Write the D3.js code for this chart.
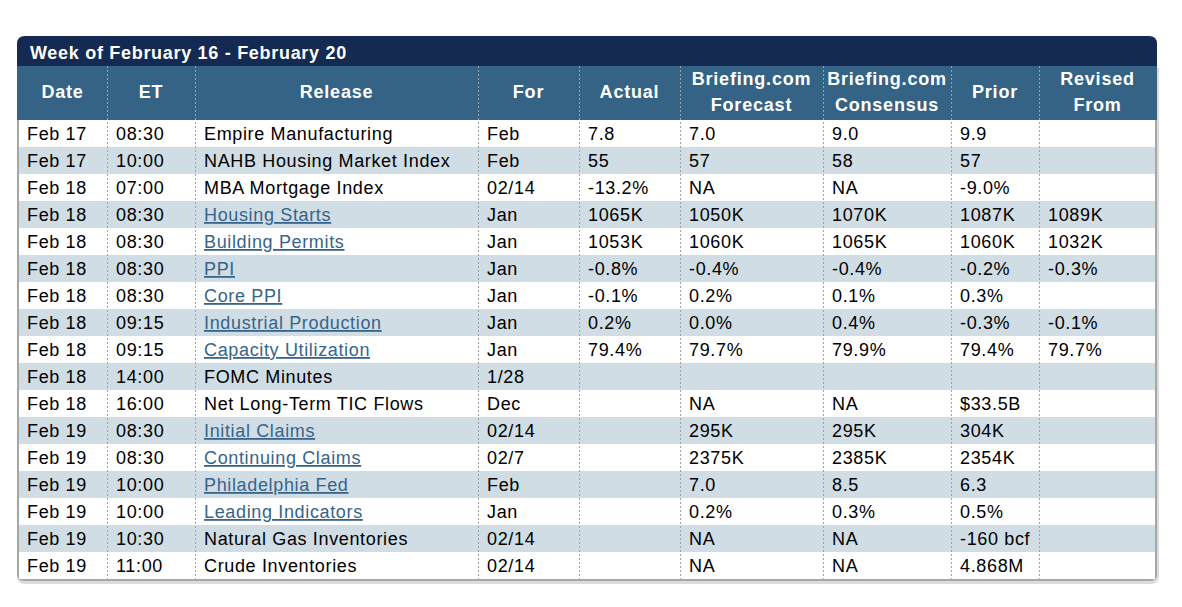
<!DOCTYPE html>
<html>
<head>
<meta charset="utf-8">
<script src="https://cdn.jsdelivr.net/npm/d3@7"></script>
<style>
  body { margin: 0; background: #fff; }
  svg text { font-family: Arial, "Liberation Sans", sans-serif; }
</style>
</head>
<body>
<div id="chart-container"></div>
<script>
// Table contents, one array per column
const title = 'Week of February 16 - February 20';
const headers = [['Date'], ['ET'], ['Release'], ['For'], ['Actual'],
  ['Briefing.com', 'Forecast'], ['Briefing.com', 'Consensus'], ['Prior'], ['Revised', 'From']];

const dates = ['Feb 17', 'Feb 17', 'Feb 18', 'Feb 18', 'Feb 18', 'Feb 18', 'Feb 18', 'Feb 18', 'Feb 18',
  'Feb 18', 'Feb 18', 'Feb 19', 'Feb 19', 'Feb 19', 'Feb 19', 'Feb 19', 'Feb 19'];
const times = ['08:30', '10:00', '07:00', '08:30', '08:30', '08:30', '08:30', '09:15', '09:15',
  '14:00', '16:00', '08:30', '08:30', '10:00', '10:00', '10:30', '11:00'];
const releases = ['Empire Manufacturing', 'NAHB Housing Market Index', 'MBA Mortgage Index', 'Housing Starts',
  'Building Permits', 'PPI', 'Core PPI', 'Industrial Production', 'Capacity Utilization', 'FOMC Minutes',
  'Net Long-Term TIC Flows', 'Initial Claims', 'Continuing Claims', 'Philadelphia Fed', 'Leading Indicators',
  'Natural Gas Inventories', 'Crude Inventories'];
const linked = [false, false, false, true, true, true, true, true, true, false,
  false, true, true, true, true, false, false];
const periods = ['Feb', 'Feb', '02/14', 'Jan', 'Jan', 'Jan', 'Jan', 'Jan', 'Jan', '1/28',
  'Dec', '02/14', '02/7', 'Feb', 'Jan', '02/14', '02/14'];
const actual = ['7.8', '55', '-13.2%', '1065K', '1053K', '-0.8%', '-0.1%', '0.2%', '79.4%', '',
  '', '', '', '', '', '', ''];
const forecast = ['7.0', '57', 'NA', '1050K', '1060K', '-0.4%', '0.2%', '0.0%', '79.7%', '',
  'NA', '295K', '2375K', '7.0', '0.2%', 'NA', 'NA'];
const consensus = ['9.0', '58', 'NA', '1070K', '1065K', '-0.4%', '0.1%', '0.4%', '79.9%', '',
  'NA', '295K', '2385K', '8.5', '0.3%', 'NA', 'NA'];
const prior = ['9.9', '57', '-9.0%', '1087K', '1060K', '-0.2%', '0.3%', '-0.3%', '79.4%', '',
  '$33.5B', '304K', '2354K', '6.3', '0.5%', '-160 bcf', '4.868M'];
const revised = ['', '', '', '1089K', '1032K', '-0.3%', '', '-0.1%', '79.7%', '',
  '', '', '', '', '', '', ''];

const columns = [dates, times, releases, periods, actual, forecast, consensus, prior, revised];

// Layout
const width = 1182, height = 607;
const left = 18, right = 1156;
const titleTop = 36, headTop = 66, bodyTop = 120, rowH = 27;
const colEdges = [left, 107, 195, 478, 579, 680, 823, 951, 1039, right];
const bodyBottom = bodyTop + rowH * dates.length;

const svg = d3.select('#chart-container').append('svg')
  .attr('width', width).attr('height', height);

const yScale = d3.scaleBand()
  .domain(d3.range(dates.length))
  .range([bodyTop, bodyBottom]);

const colScale = d3.scaleOrdinal()
  .domain(d3.range(columns.length))
  .range(colEdges.slice(0, -1));

// Outer frame shadow and border
const framePath = `M${left},${headTop} V${bodyBottom - 5} Q${left},${bodyBottom + 1} ${left + 6},${bodyBottom + 1} H${right - 6} Q${right},${bodyBottom + 1} ${right},${bodyBottom - 5} V${headTop}`;
svg.append('path')
  .attr('d', framePath)
  .attr('fill', 'none').attr('stroke', '#dcdcdc').attr('stroke-width', 4)
  .attr('transform', 'translate(1,2)');
svg.append('path')
  .attr('d', framePath)
  .attr('fill', '#fff').attr('stroke', '#a6a6a6').attr('stroke-width', 2);

// Title bar with rounded top corners
svg.append('path')
  .attr('d', `M${left - 1},${headTop} V${titleTop + 8} Q${left - 1},${titleTop} ${left + 7},${titleTop} H${right - 7} Q${right + 1},${titleTop} ${right + 1},${titleTop + 8} V${headTop} Z`)
  .attr('fill', '#152a52');
svg.append('text')
  .attr('x', left + 12).attr('y', titleTop + 23)
  .attr('fill', '#fff').attr('font-size', 18).attr('font-weight', 'bold')
  .attr('letter-spacing', 0.7)
  .text(title);

// Header row
svg.append('rect')
  .attr('x', left - 1).attr('y', headTop).attr('width', right - left + 2).attr('height', bodyTop - headTop)
  .attr('fill', '#356386');

const head = svg.append('g').selectAll('text')
  .data(headers.map((lines, i) => ({ lines, i })))
  .join('text')
  .attr('fill', '#fff').attr('font-size', 18).attr('font-weight', 'bold')
  .attr('letter-spacing', 0.8)
  .attr('text-anchor', 'middle');
head.selectAll('tspan')
  .data((d) => d.lines.map((line) => ({ line, n: d.lines.length, i: d.i })))
  .join('tspan')
  .attr('x', (d) => (colEdges[d.i] + colEdges[d.i + 1]) / 2)
  .attr('y', (d, k) => d.n === 1 ? 98 : 85 + k * 26)
  .text((d) => d.line);

// Striped body rows
svg.append('g').selectAll('rect')
  .data(d3.range(dates.length))
  .join('rect')
  .attr('x', left + 1).attr('y', (i) => yScale(i))
  .attr('width', right - left - 2).attr('height', yScale.bandwidth())
  .attr('fill', (i) => i % 2 === 1 ? '#d0dde5' : '#fff');

// Dotted column separators
svg.append('g').selectAll('line')
  .data(colEdges.slice(1, -1))
  .join('line')
  .attr('x1', (d) => d + 0.5).attr('x2', (d) => d + 0.5)
  .attr('y1', headTop).attr('y2', bodyBottom)
  .attr('stroke', '#9aa3ab').attr('stroke-width', 1).attr('stroke-dasharray', '2,2');

// Cell texts
const cells = [];
columns.forEach((col, c) => col.forEach((value, r) => cells.push({ c, r, value })));

svg.append('g').selectAll('text')
  .data(cells.filter((d) => d.value !== ''))
  .join('text')
  .attr('x', (d) => colScale(d.c) + 9)
  .attr('y', (d) => yScale(d.r) + 20)
  .attr('font-size', 18)
  .attr('letter-spacing', 0.65)
  .attr('fill', (d) => d.c === 2 && linked[d.r] ? '#36648b' : '#000')
  .attr('text-decoration', (d) => d.c === 2 && linked[d.r] ? 'underline' : null)
  .text((d) => d.value);
</script>
</body>
</html>
